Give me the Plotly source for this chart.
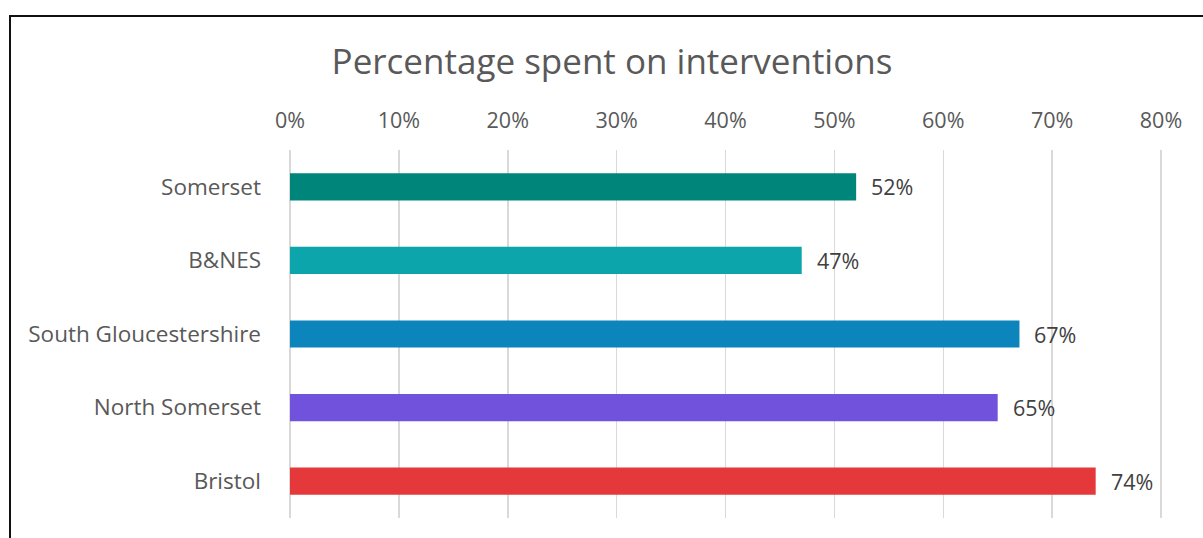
import plotly.graph_objects as go

categories = ["Somerset", "B&NES", "South Gloucestershire", "North Somerset", "Bristol"]
values = [52, 47, 67, 65, 74]
colors = ["#00857B", "#0CA5AB", "#0C84BC", "#7052DC", "#E4383A"]
tick_vals = [0, 10, 20, 30, 40, 50, 60, 70, 80]
tick_text = [f"{v}%" for v in tick_vals]
title_text = "Percentage spent on interventions"

FONT = "'Open Sans', 'Noto Sans', sans-serif"

fig = go.Figure()
fig.add_trace(go.Bar(
    y=categories,
    x=values,
    orientation="h",
    marker=dict(color=colors, line=dict(width=0)),
    width=0.37,
    hoverinfo="skip",
))

for c, v in zip(categories, values):
    fig.add_annotation(
        x=v, y=c, xref="x", yref="y", text=f"{v}%", showarrow=False,
        xanchor="left", yanchor="middle", xshift=13,
        font=dict(family=FONT, size=21.5, color="#404040"),
    )

W, H = 1203, 538
ml, mr, mt, mb = 288, 40, 150, 20
pw = W - ml - mr
ph = H - mt - mb
pad = 2 / (871 / 80)

def px_to_paper_x(px):
    return (px - ml) / pw

def px_to_paper_y(py):
    return (H - mb - py) / ph

fig.update_layout(
    width=W, height=H,
    margin=dict(l=ml, r=mr, t=mt, b=mb, autoexpand=False),
    paper_bgcolor="white",
    plot_bgcolor="white",
    showlegend=False,
    title=dict(text=title_text, x=612 / W, xanchor="center", xref="container",
               y=1 - 62 / H, yanchor="middle", yref="container",
               font=dict(family=FONT, size=35, color="#595959")),
    xaxis=dict(
        range=[-pad, 80 + pad], side="top", tickvals=tick_vals, ticktext=tick_text,
        showgrid=True, gridcolor="#D9D9D9", gridwidth=1.5,
        zeroline=False, showline=False, ticks="",
        tickfont=dict(family=FONT, size=21.5, color="#595959"),
        ticklabelstandoff=17, fixedrange=True,
    ),
    yaxis=dict(
        categoryorder="array", categoryarray=categories[::-1],
        showgrid=False, zeroline=False, showline=False, ticks="",
        tickfont=dict(family=FONT, size=22.5, color="#595959"),
        ticklabelstandoff=26, fixedrange=True,
    ),
    shapes=[
        dict(type="path", xref="paper", yref="paper",
             path=f"M {px_to_paper_x(10)},{px_to_paper_y(545)} L {px_to_paper_x(10)},{px_to_paper_y(16)} L {px_to_paper_x(1210)},{px_to_paper_y(16)}",
             line=dict(color="#111111", width=2), layer="above"),
    ],
)

fig.write_html("out.html", config={"displayModeBar": False, "staticPlot": True},
               post_script="document.body.style.margin='0';document.body.style.padding='0';document.body.style.overflow='hidden';")
